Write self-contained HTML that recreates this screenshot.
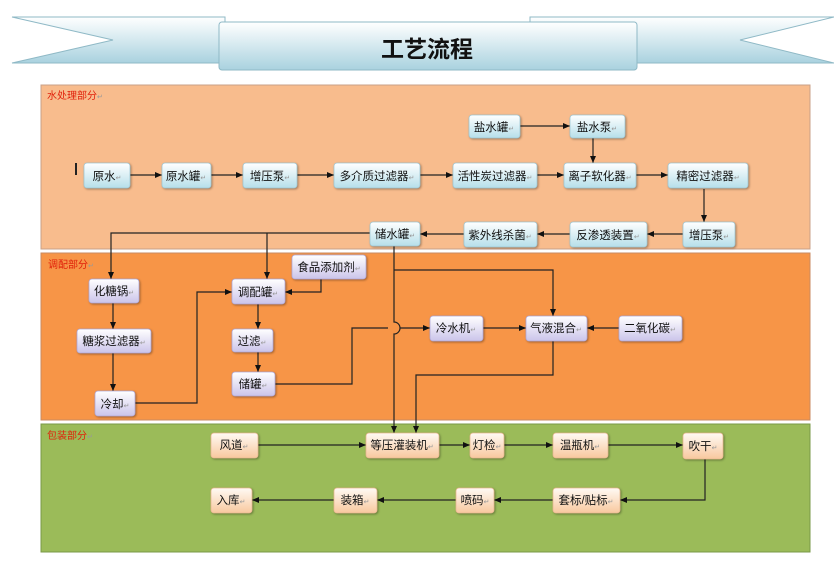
<!DOCTYPE html>
<html><head><meta charset="utf-8">
<style>
html,body{margin:0;padding:0;background:#fff;}
svg{display:block;}
text{font-family:"Liberation Sans","Noto Sans CJK SC",sans-serif;}
.n{font-size:11.5px;fill:#111;}
.r{font-size:7px;fill:#999;}
.lab{font-size:10px;fill:#e0200a;}
</style></head><body>
<svg width="834" height="563" viewBox="0 0 834 563" xmlns="http://www.w3.org/2000/svg">
<defs>
<linearGradient id="rib" x1="0" y1="0" x2="0" y2="1">
<stop offset="0" stop-color="#ffffff"/><stop offset="1" stop-color="#a9d2df"/></linearGradient>
<linearGradient id="gb" x1="0" y1="0" x2="0" y2="1">
<stop offset="0" stop-color="#ffffff"/><stop offset="1" stop-color="#b6dfea"/></linearGradient>
<linearGradient id="gp" x1="0" y1="0" x2="0" y2="1">
<stop offset="0" stop-color="#ffffff"/><stop offset="1" stop-color="#cbc4ea"/></linearGradient>
<linearGradient id="go" x1="0" y1="0" x2="0" y2="1">
<stop offset="0" stop-color="#fffaf4"/><stop offset="1" stop-color="#f8c89e"/></linearGradient>
<marker id="a" markerWidth="8" markerHeight="8" refX="7" refY="4" orient="auto" markerUnits="userSpaceOnUse">
<path d="M0,1 L7,4 L0,7 z" fill="#111"/></marker>
</defs>

<!-- banner -->
<path d="M12,17 L225,17 L225,63 L12,63 L113,40 Z" fill="url(#rib)" stroke="#8fb9c6" stroke-width="1"/>
<path d="M834,17 L530,17 L530,63 L834,63 L740,40 Z" fill="url(#rib)" stroke="#8fb9c6" stroke-width="1"/>
<rect x="219" y="22" width="418" height="48" rx="3" fill="url(#rib)" stroke="#8fb9c6"/>
<text x="427" y="57" font-size="23" font-weight="bold" text-anchor="middle" fill="#111" style="font-family:'Noto Sans CJK SC',sans-serif;">工艺流程</text>

<!-- sections -->
<rect x="41" y="85" width="769" height="164" fill="#f8bc8d" stroke="#c9a088"/>
<rect x="41" y="253" width="769" height="167" fill="#f79547" stroke="#c98a60"/>
<rect x="41" y="424" width="769" height="128" fill="#9bbb59" stroke="#7a9848"/>
<text class="lab" x="47" y="99">水处理部分<tspan class="r">↵</tspan></text>
<text class="lab" x="48" y="268">调配部分<tspan class="r">↵</tspan></text>
<text class="lab" x="47" y="439">包装部分<tspan class="r">↵</tspan></text>
<rect x="75" y="163" width="2" height="12" fill="#222"/>

<g stroke="#222" stroke-width="1.2" fill="none">
<line x1="130" y1="175" x2="162" y2="175" marker-end="url(#a)"/>
<line x1="211" y1="175" x2="243" y2="175" marker-end="url(#a)"/>
<line x1="297" y1="175" x2="334" y2="175" marker-end="url(#a)"/>
<line x1="420" y1="175" x2="453" y2="175" marker-end="url(#a)"/>
<line x1="537" y1="175" x2="564" y2="175" marker-end="url(#a)"/>
<line x1="636" y1="175" x2="668" y2="175" marker-end="url(#a)"/>
<line x1="520" y1="126" x2="570" y2="126" marker-end="url(#a)"/>
<line x1="593" y1="138" x2="593" y2="163" marker-end="url(#a)"/>
<line x1="704" y1="189" x2="704" y2="222" marker-end="url(#a)"/>
<line x1="683" y1="234" x2="647" y2="234" marker-end="url(#a)"/>
<line x1="570" y1="234" x2="537" y2="234" marker-end="url(#a)"/>
<line x1="464" y1="234" x2="420" y2="234" marker-end="url(#a)"/>
<polyline points="370,233 111,233 111,279" marker-end="url(#a)"/>
<line x1="267" y1="233" x2="267" y2="279" marker-end="url(#a)"/>
<path d="M394,246 L394,322 A6,6 0 0 1 394,334 L394,433" marker-end="url(#a)"/>
<polyline points="394,270 553,270 553,316" marker-end="url(#a)"/>
<line x1="113" y1="303" x2="113" y2="329" marker-end="url(#a)"/>
<line x1="113" y1="353" x2="113" y2="391" marker-end="url(#a)"/>
<polyline points="135,403 197,403 197,292 232,292" marker-end="url(#a)"/>
<polyline points="321,279 321,292 285,292" marker-end="url(#a)"/>
<line x1="258" y1="304" x2="258" y2="329" marker-end="url(#a)"/>
<line x1="258" y1="352" x2="258" y2="372" marker-end="url(#a)"/>
<polyline points="275,384 352,384 352,328 388,328"/>
<line x1="400" y1="328" x2="430" y2="328" marker-end="url(#a)"/>
<line x1="483" y1="328" x2="526" y2="328" marker-end="url(#a)"/>
<line x1="619" y1="328" x2="587" y2="328" marker-end="url(#a)"/>
<polyline points="553,341 553,375 416,375 416,433" marker-end="url(#a)"/>
<line x1="258" y1="445" x2="366" y2="445" marker-end="url(#a)"/>
<line x1="439" y1="445" x2="470" y2="445" marker-end="url(#a)"/>
<line x1="504" y1="445" x2="553" y2="445" marker-end="url(#a)"/>
<line x1="608" y1="445" x2="683" y2="445" marker-end="url(#a)"/>
<polyline points="705,459 705,500 620,500" marker-end="url(#a)"/>
<line x1="553" y1="500" x2="494" y2="500" marker-end="url(#a)"/>
<line x1="456" y1="500" x2="377" y2="500" marker-end="url(#a)"/>
<line x1="334" y1="500" x2="252" y2="500" marker-end="url(#a)"/>
</g>

<g style="filter:drop-shadow(1px 1.5px 1px rgba(0,0,0,0.35))">
<g fill="url(#gb)" stroke="#9fc7d4" stroke-width="0.8">
<rect x="84" y="163" width="46" height="25" rx="3"/>
<rect x="162" y="163" width="49" height="25" rx="3"/>
<rect x="243" y="163" width="54" height="25" rx="3"/>
<rect x="334" y="163" width="86" height="25" rx="3"/>
<rect x="453" y="163" width="84" height="25" rx="3"/>
<rect x="564" y="163" width="72" height="25" rx="3"/>
<rect x="668" y="163" width="80" height="25" rx="3"/>
<rect x="469" y="115" width="51" height="23" rx="3"/>
<rect x="570" y="115" width="55" height="23" rx="3"/>
<rect x="683" y="222" width="52" height="25" rx="3"/>
<rect x="570" y="222" width="77" height="25" rx="3"/>
<rect x="464" y="222" width="73" height="25" rx="3"/>
<rect x="370" y="222" width="50" height="24" rx="3"/>
</g>
<g fill="url(#gp)" stroke="#b0a8d8" stroke-width="0.8">
<rect x="89" y="279" width="50" height="24" rx="3"/>
<rect x="77" y="329" width="74" height="24" rx="3"/>
<rect x="95" y="391" width="40" height="25" rx="3"/>
<rect x="232" y="279" width="53" height="25" rx="3"/>
<rect x="292" y="255" width="74" height="24" rx="3"/>
<rect x="232" y="329" width="41" height="23" rx="3"/>
<rect x="232" y="372" width="43" height="24" rx="3"/>
<rect x="430" y="316" width="53" height="25" rx="3"/>
<rect x="526" y="316" width="61" height="25" rx="3"/>
<rect x="619" y="316" width="63" height="25" rx="3"/>
</g>
<g fill="url(#go)" stroke="#e8b890" stroke-width="0.8">
<rect x="211" y="433" width="47" height="25" rx="3"/>
<rect x="366" y="433" width="73" height="25" rx="3"/>
<rect x="470" y="433" width="34" height="25" rx="3"/>
<rect x="553" y="433" width="55" height="25" rx="3"/>
<rect x="683" y="433" width="40" height="26" rx="3"/>
<rect x="553" y="488" width="67" height="25" rx="3"/>
<rect x="456" y="488" width="38" height="25" rx="3"/>
<rect x="334" y="488" width="43" height="25" rx="3"/>
<rect x="211" y="488" width="41" height="25" rx="3"/>
</g>
</g>

<g class="n" text-anchor="middle">
<text x="107" y="180">原水<tspan class="r">↵</tspan></text>
<text x="186" y="180">原水罐<tspan class="r">↵</tspan></text>
<text x="270" y="180">增压泵<tspan class="r">↵</tspan></text>
<text x="377" y="180">多介质过滤器<tspan class="r">↵</tspan></text>
<text x="495" y="180">活性炭过滤器<tspan class="r">↵</tspan></text>
<text x="600" y="180">离子软化器<tspan class="r">↵</tspan></text>
<text x="708" y="180">精密过滤器<tspan class="r">↵</tspan></text>
<text x="494" y="131">盐水罐<tspan class="r">↵</tspan></text>
<text x="597" y="131">盐水泵<tspan class="r">↵</tspan></text>
<text x="709" y="239">增压泵<tspan class="r">↵</tspan></text>
<text x="608" y="239">反渗透装置<tspan class="r">↵</tspan></text>
<text x="500" y="239">紫外线杀菌<tspan class="r">↵</tspan></text>
<text x="395" y="238">储水罐<tspan class="r">↵</tspan></text>
<text x="114" y="295">化糖锅<tspan class="r">↵</tspan></text>
<text x="114" y="345">糖浆过滤器<tspan class="r">↵</tspan></text>
<text x="115" y="408">冷却<tspan class="r">↵</tspan></text>
<text x="258" y="296">调配罐<tspan class="r">↵</tspan></text>
<text x="329" y="271">食品添加剂<tspan class="r">↵</tspan></text>
<text x="252" y="345">过滤<tspan class="r">↵</tspan></text>
<text x="253" y="388">储罐<tspan class="r">↵</tspan></text>
<text x="456" y="332">冷水机<tspan class="r">↵</tspan></text>
<text x="556" y="332">气液混合<tspan class="r">↵</tspan></text>
<text x="650" y="332">二氧化碳<tspan class="r">↵</tspan></text>
<text x="234" y="449">风道<tspan class="r">↵</tspan></text>
<text x="402" y="449">等压灌装机<tspan class="r">↵</tspan></text>
<text x="487" y="449">灯检<tspan class="r">↵</tspan></text>
<text x="580" y="449">温瓶机<tspan class="r">↵</tspan></text>
<text x="703" y="450">吹干<tspan class="r">↵</tspan></text>
<text x="586" y="504">套标/贴标<tspan class="r">↵</tspan></text>
<text x="475" y="504">喷码<tspan class="r">↵</tspan></text>
<text x="355" y="504">装箱<tspan class="r">↵</tspan></text>
<text x="231" y="504">入库<tspan class="r">↵</tspan></text>
</g>
</svg>
</body></html>
